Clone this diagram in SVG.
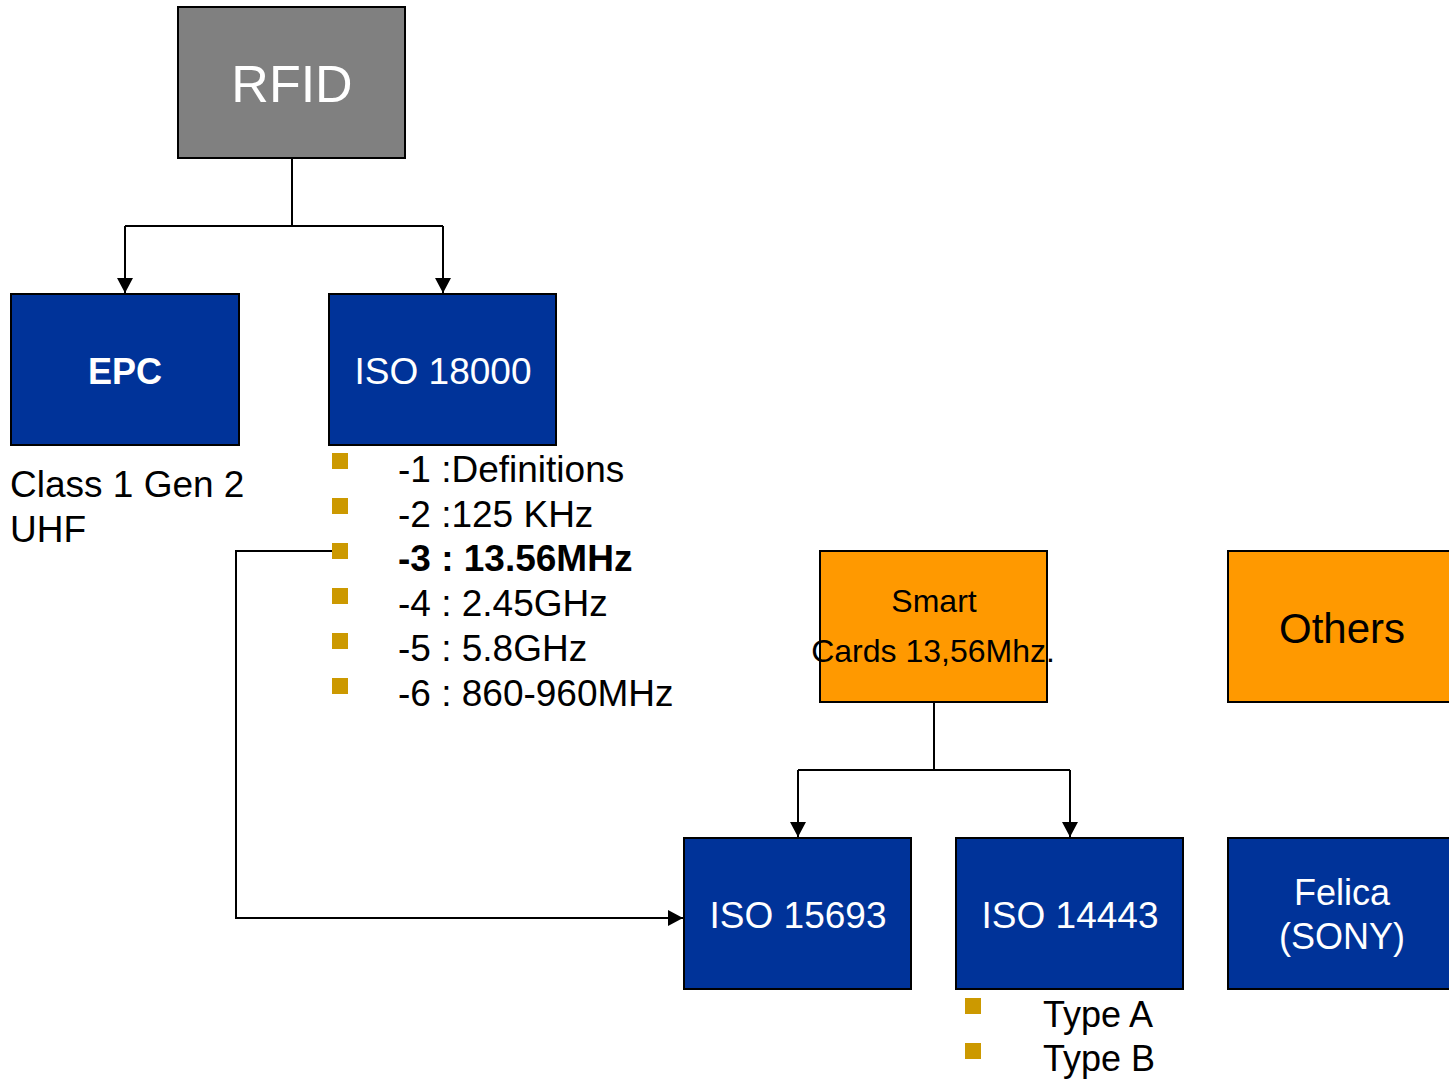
<svg xmlns="http://www.w3.org/2000/svg" width="1449" height="1079" viewBox="0 0 1449 1079">
<style>
.box{stroke:#000;stroke-width:2}
.gray{fill:#808080}
.blue{fill:#003399}
.orange{fill:#FF9900}
.wt{fill:#fff;font-family:"Liberation Sans",Arial,sans-serif;text-anchor:middle}
.bt{fill:#000;font-family:"Liberation Sans",Arial,sans-serif}
.bul{fill:#CC9900}
.conn{fill:none;stroke:#000;stroke-width:2}
</style>
<defs>
<marker id="arr" viewBox="0 0 15 16" refX="15" refY="8" markerWidth="15" markerHeight="16" markerUnits="userSpaceOnUse" orient="auto">
<path d="M0,0 L15,8 L0,16 Z" fill="#000"/>
</marker>
</defs>
<rect width="1449" height="1079" fill="#fff"/>
<g id="connectors">
<path class="conn" d="M292,158 V226"/>
<path class="conn" d="M125,226 H443"/>
<path class="conn" d="M125,226 V293" marker-end="url(#arr)"/>
<path class="conn" d="M443,226 V293" marker-end="url(#arr)"/>
<path class="conn" d="M334,551 H236 V918 H683" marker-end="url(#arr)"/>
<path class="conn" d="M934,702 V770"/>
<path class="conn" d="M798,770 H1070"/>
<path class="conn" d="M798,770 V837" marker-end="url(#arr)"/>
<path class="conn" d="M1070,770 V837" marker-end="url(#arr)"/>
</g>
<g id="rfid">
<rect class="box gray" x="178" y="7" width="227" height="151"/>
<text class="wt" x="292" y="102" font-size="52">RFID</text>
</g>
<g id="epc">
<rect class="box blue" x="11" y="294" width="228" height="151"/>
<text class="wt" x="125" y="384" font-size="36" font-weight="bold">EPC</text>
</g>
<g id="epc-label">
<text class="bt" x="10" y="497" font-size="37">Class 1 Gen 2</text>
<text class="bt" x="10" y="542" font-size="37">UHF</text>
</g>
<g id="iso18000">
<rect class="box blue" x="329" y="294" width="227" height="151"/>
<text class="wt" x="443" y="384" font-size="37">ISO 18000</text>
</g>
<g id="iso18000-list">
<rect class="bul" x="332" y="453" width="16" height="16"/>
<rect class="bul" x="332" y="498" width="16" height="16"/>
<rect class="bul" x="332" y="543" width="16" height="16"/>
<rect class="bul" x="332" y="588" width="16" height="16"/>
<rect class="bul" x="332" y="633" width="16" height="16"/>
<rect class="bul" x="332" y="678" width="16" height="16"/>
<text class="bt" x="398" y="482" font-size="37">-1 :Definitions</text>
<text class="bt" x="398" y="527" font-size="37">-2 :125 KHz</text>
<text class="bt" x="398" y="571" font-size="37" font-weight="bold">-3 : 13.56MHz</text>
<text class="bt" x="398" y="616" font-size="37">-4 : 2.45GHz</text>
<text class="bt" x="398" y="661" font-size="37">-5 : 5.8GHz</text>
<text class="bt" x="398" y="706" font-size="37">-6 : 860-960MHz</text>
</g>
<g id="smartcards">
<rect class="box orange" x="820" y="551" width="227" height="151"/>
<text class="bt" x="934" y="612" font-size="32" text-anchor="middle">Smart</text>
<text class="bt" x="933" y="662" font-size="32" text-anchor="middle">Cards 13,56Mhz.</text>
</g>
<g id="others">
<rect class="box orange" x="1228" y="551" width="240" height="151"/>
<text class="bt" x="1342" y="643" font-size="42" text-anchor="middle">Others</text>
</g>
<g id="iso15693">
<rect class="box blue" x="684" y="838" width="227" height="151"/>
<text class="wt" x="798" y="928" font-size="37">ISO 15693</text>
</g>
<g id="iso14443">
<rect class="box blue" x="956" y="838" width="227" height="151"/>
<text class="wt" x="1070" y="928" font-size="37">ISO 14443</text>
</g>
<g id="iso14443-list">
<rect class="bul" x="965" y="998" width="16" height="16"/>
<rect class="bul" x="965" y="1043" width="16" height="16"/>
<text class="bt" x="1043" y="1027" font-size="36">Type A</text>
<text class="bt" x="1043" y="1071" font-size="36">Type B</text>
</g>
<g id="felica">
<rect class="box blue" x="1228" y="838" width="240" height="151"/>
<text class="wt" x="1342" y="905" font-size="36">Felica</text>
<text class="wt" x="1342" y="949" font-size="36">(SONY)</text>
</g>
</svg>
